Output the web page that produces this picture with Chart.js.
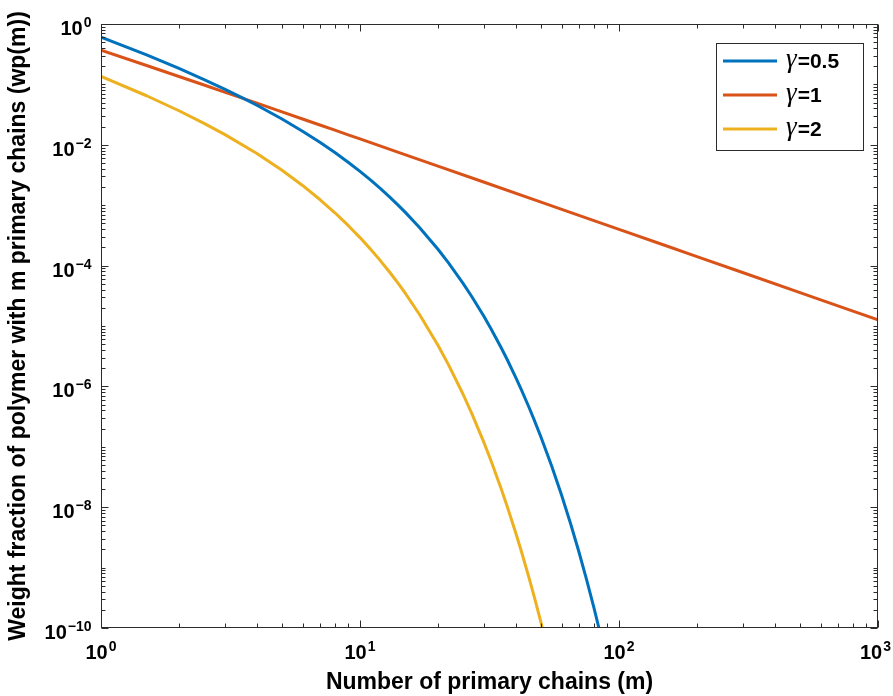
<!DOCTYPE html>
<html><head><meta charset="utf-8">
<script src="https://cdn.jsdelivr.net/npm/chart.js@4/dist/chart.umd.min.js"></script>
<style>html,body{margin:0;padding:0;background:#fff}#wrap{width:893px;height:696px}</style>
</head><body><div id="wrap"><canvas id="c" width="893" height="696"></canvas></div>
<script>
// ---- data ----
const seriesNames = ['0.5', '1', '2'];               // gamma values, legend "γ=..."
const seriesColors = ['#0072BD', '#D95319', '#EDB120'];

const mBlue = [1,1.5,2,2.5,3,3.5,4,5,6,7,8,9,10,11,12,13,14,15,17,20,22,25,27,30,32,35,37,40,42,45,47,50,55,60,65,70,75,80,85];
const wpBlue = [0.6065,0.3077,0.1839,0.1205,0.08367,0.06053,0.04511,0.02672,0.01680,0.01101,0.007443,0.005148,
  0.003627,0.002594,0.001878,0.0013735,0.0010135,7.536e-4,4.248e-4,1.867e-4,1.0997e-4,5.087e-5,3.082e-5,
  1.475e-5,9.096e-6,4.457e-6,2.786e-6,1.389e-6,8.773e-7,4.432e-7,2.822e-7,1.441e-7,4.755e-8,
  1.589e-8,5.366e-9,1.828e-9,6.277e-10,2.169e-10,7.54e-11];

const mRed = [1,1.5,2,2.5,3,4,5,6,7,8,9,10,15,20,30,50,70,100,150,200,300,500,700,1000];
const wpRed = [0.3679,0.2056,0.1353,0.09763,0.07468,0.04884,0.03509,0.02677,0.02129,0.01745,0.01464,0.01251,
  0.006829,0.004442,0.002421,0.0011265,0.0006804,0.0003986,0.0002172,0.0001410,7.678e-5,
  3.568e-5,2.154e-5,1.262e-5];

const mYellow = [1,1.5,2,2.5,3,4,5,6,7,8,9,10,11,12,13,14,15,17,20,22,25,27,30,32,35,37,40,42,45,47,50,55];
const wpYellow = [0.1353,0.06487,0.03663,0.02267,0.01487,0.007157,0.003783,0.002123,0.001242,7.492e-4,4.625e-4,
  2.908e-4,1.8565e-4,1.199e-4,7.831e-5,5.159e-5,3.423e-5,1.537e-5,4.799e-6,2.253e-6,7.413e-7,3.576e-7,
  1.217e-7,5.978e-8,2.083e-8,1.037e-8,3.677e-9,1.850e-9,6.643e-10,3.371e-10,1.223e-10,2.287e-11];

const xTickValues = [1, 10, 100, 1000];
const xTickExponents = ['0', '1', '2', '3'];
const yTickValues = [1, 1e-2, 1e-4, 1e-6, 1e-8, 1e-10];
const yTickExponents = ['0', '\u22122', '\u22124', '\u22126', '\u22128', '\u221210'];

const xTitle = 'Number of primary chains (m)';
const yTitle = 'Weight fraction of polymer with m primary chains (wp(m))';

// ---- chart ----
const SANS = '"Liberation Sans", Arial, Helvetica, sans-serif';
const AXIS_COLOR = '#2b2b2b';

function toXY(xs, ys) { return xs.map((x, i) => ({ x: x, y: ys[i] })); }

const datasets = [
  { label: '\u03b3=' + seriesNames[0], data: toXY(mBlue, wpBlue), borderColor: seriesColors[0] },
  { label: '\u03b3=' + seriesNames[1], data: toXY(mRed, wpRed), borderColor: seriesColors[1] },
  { label: '\u03b3=' + seriesNames[2], data: toXY(mYellow, wpYellow), borderColor: seriesColors[2] }
].map(d => Object.assign(d, { borderWidth: 3, pointRadius: 0, fill: false, tension: 0, clip: 0,
  borderJoinStyle: 'round', borderCapStyle: 'butt' }));

function drawPow(ctx, exp, x, y, align, maxRight) {
  const fb = 'bold 20px ' + SANS, fe = 'bold 14px ' + SANS;
  ctx.font = fb; const wb = ctx.measureText('10').width;
  ctx.font = fe; const we = ctx.measureText(exp).width;
  const total = wb + 1 + we;
  let x0 = align === 'center' ? x - total / 2 : x - total;
  if (maxRight !== undefined && x0 + total > maxRight) x0 = maxRight - total;
  ctx.textAlign = 'left'; ctx.textBaseline = 'alphabetic';
  ctx.font = fb; ctx.fillText('10', x0, y);
  ctx.font = fe; ctx.fillText(exp, x0 + wb + 1, y - 8);
}

const decorPlugin = {
  id: 'decor',
  afterDraw(chart) {
    const ctx = chart.ctx, a = chart.chartArea;
    const xs = chart.scales.x, ys = chart.scales.y;
    const L = Math.round(a.left) + 0.5, R = Math.round(a.right) - 0.5;
    const T = Math.round(a.top) + 0.5, B = Math.round(a.bottom) - 0.5;
    ctx.save();
    ctx.strokeStyle = AXIS_COLOR; ctx.lineWidth = 1;
    ctx.beginPath();
    // x ticks (bottom + top, inward)
    for (let d = 0; d <= 3; d++) {
      for (let n = 1; n <= 9; n++) {
        const v = n * Math.pow(10, d);
        if (v > 1000) break;
        const len = n === 1 ? 7 : 4;
        const px = Math.round(xs.getPixelForValue(v)) + 0.5;
        ctx.moveTo(px, B); ctx.lineTo(px, B - len);
        ctx.moveTo(px, T); ctx.lineTo(px, T + len);
      }
    }
    // y ticks (left + right, inward)
    for (let k = -10; k <= 0; k++) {
      for (let n = 1; n <= 9; n++) {
        const v = n * Math.pow(10, k);
        if (v > 1) break;
        const len = (n === 1 && k % 2 === 0) ? 7 : 4;
        const py = Math.round(ys.getPixelForValue(v)) + 0.5;
        ctx.moveTo(L, py); ctx.lineTo(L + len, py);
        ctx.moveTo(R, py); ctx.lineTo(R - len, py);
      }
    }
    ctx.stroke();
    ctx.strokeRect(L, T, R - L, B - T);

    // tick labels
    ctx.fillStyle = '#000';
    xTickValues.forEach((v, i) => drawPow(ctx, xTickExponents[i], xs.getPixelForValue(v), B + 31, 'center', 891));
    yTickValues.forEach((v, i) => drawPow(ctx, yTickExponents[i], L - 10, ys.getPixelForValue(v) + 11, 'right'));

    // legend (inside, top-right)
    const bx = 716.5, by = 43.5, bw = 147, bh = 107;
    ctx.fillStyle = '#fff'; ctx.fillRect(bx, by, bw, bh);
    ctx.strokeStyle = AXIS_COLOR; ctx.lineWidth = 1; ctx.strokeRect(bx, by, bw, bh);
    const rows = [61, 95, 129];
    chart.data.datasets.forEach((ds, i) => {
      const y = rows[i];
      ctx.strokeStyle = ds.borderColor; ctx.lineWidth = 3;
      ctx.beginPath(); ctx.moveTo(723, y); ctx.lineTo(777, y); ctx.stroke();
      ctx.fillStyle = '#000'; ctx.textAlign = 'left'; ctx.textBaseline = 'alphabetic';
      ctx.font = 'italic 27px "Liberation Serif", "Times New Roman", serif';
      ctx.fillText('\u03b3', 786, y + 6);
      const gw = ctx.measureText('\u03b3').width;
      ctx.font = 'bold 21px ' + SANS;
      ctx.fillText('=' + seriesNames[i], 786 + gw + 1, y + 7);
    });
    ctx.restore();
  }
};

new Chart(document.getElementById('c'), {
  type: 'line',
  data: { datasets: datasets },
  options: {
    responsive: false,
    animation: false,
    layout: { padding: { top: 24, right: 15, left: 0, bottom: 0 } },
    plugins: { legend: { display: false }, tooltip: { enabled: false } },
    scales: {
      x: {
        type: 'logarithmic', min: 1, max: 1000,
        grid: { display: false }, border: { display: false },
        ticks: { display: false },
        afterFit: s => { s.height = 68; },
        title: { display: true, text: xTitle, color: '#000', padding: { top: 1, bottom: 0 },
          font: { family: SANS, size: 23, weight: 'bold' } }
      },
      y: {
        type: 'logarithmic', min: 1e-10, max: 1,
        grid: { display: false }, border: { display: false },
        ticks: { display: false },
        afterFit: s => { s.width = 101; },
        title: { display: true, text: yTitle, color: '#000', padding: { top: 5, bottom: 0 },
          font: { family: SANS, size: 23, weight: 'bold' } }
      }
    }
  },
  plugins: [decorPlugin]
});
</script>
</body></html>
